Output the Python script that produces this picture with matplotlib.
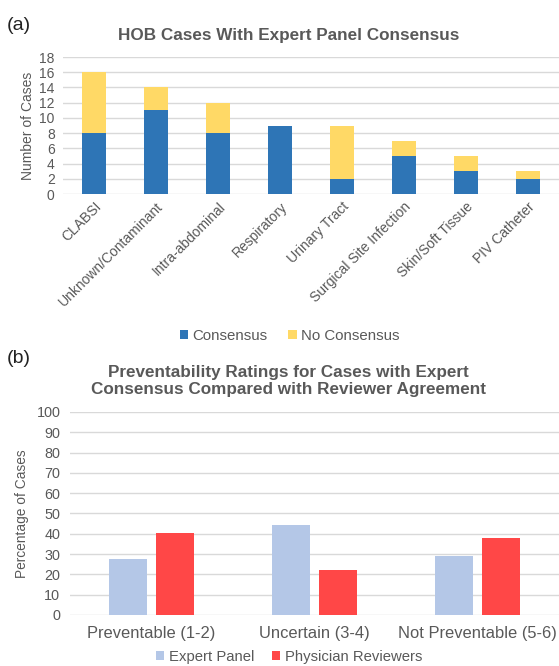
import matplotlib
matplotlib.use("Agg")
import matplotlib.pyplot as plt
import numpy as np

plt.rcParams["font.family"] = ["Liberation Sans", "DejaVu Sans"]

# panel (a) data
infection_types = ["CLABSI", "Unknown/Contaminant", "Intra-abdominal", "Respiratory",
                   "Urinary Tract", "Surgical Site Infection", "Skin/Soft Tissue", "PIV Catheter"]
consensus = [8, 11, 8, 9, 2, 5, 3, 2]
no_consensus = [8, 3, 4, 0, 7, 2, 2, 1]

# panel (b) data
ratings = ["Preventable (1-2)", "Uncertain (3-4)", "Not Preventable (5-6)"]
expert_panel = [27.5, 44.5, 29]
physician_reviewers = [40.5, 22, 38]

TXT = "#595959"
GRID = "#d9d9d9"

fig = plt.figure(figsize=(5.59, 6.66), dpi=100)


def style_axes(ax):
    for s in ax.spines.values():
        s.set_visible(False)
    ax.grid(axis="y", color=GRID, linewidth=1)
    ax.set_axisbelow(True)
    ax.tick_params(axis="both", length=0, colors=TXT)


# ---------- (a) ----------
ax1 = fig.add_axes([0.1127, 0.7087, 0.8873, 0.2057])
x = np.arange(len(infection_types))
ax1.bar(x, consensus, width=0.39, color="#2e75b6", label="Consensus")
ax1.bar(x, no_consensus, width=0.39, bottom=consensus, color="#ffd966", label="No Consensus")
ax1.set_xlim(-0.5, len(x) - 0.5)
ax1.set_ylim(0, 18)
ax1.set_yticks(range(0, 19, 2))
ax1.set_xticks(x)
ax1.set_xticklabels(infection_types, rotation=45, ha="right", rotation_mode="anchor", fontsize=10)
ax1.tick_params(axis="y", labelsize=10, pad=6)
ax1.tick_params(axis="x", pad=4)
style_axes(ax1)
ax1.set_ylabel("Number of Cases", color=TXT, fontsize=10, labelpad=3)
ax1.set_title("HOB Cases With Expert Panel Consensus", fontsize=12.3, fontweight="bold",
              color=TXT, pad=12, x=0.455)
ax1.legend(loc="center", bbox_to_anchor=(0.457, -1.036), ncol=2, frameon=False, fontsize=10.8,
           handlelength=0.55, handleheight=0.55, handletextpad=0.3, columnspacing=1.4,
           labelcolor=TXT)
fig.text(0.012, 0.962, "(a)", fontsize=14, color="#222222", va="center")

# ---------- (b) ----------
ax2 = fig.add_axes([0.1252, 0.0766, 0.8748, 0.3048])
x2 = np.arange(len(ratings))
w = 0.233
ax2.bar(x2 - 0.144, expert_panel, width=w, color="#b4c7e7", label="Expert Panel")
ax2.bar(x2 + 0.144, physician_reviewers, width=w, color="#ff4747", label="Physician Reviewers")
ax2.set_xlim(-0.5, len(x2) - 0.5)
ax2.set_ylim(0, 100)
ax2.set_yticks(range(0, 101, 10))
ax2.set_xticks(x2)
ax2.set_xticklabels(ratings, fontsize=11.9)
ax2.tick_params(axis="y", labelsize=10.4, pad=7)
ax2.tick_params(axis="x", pad=8)
style_axes(ax2)
ax2.set_ylabel("Percentage of Cases", color=TXT, fontsize=9.9, labelpad=5)
ax2.set_title("Preventability Ratings for Cases with Expert\nConsensus Compared with Reviewer Agreement",
              fontsize=12.3, fontweight="bold", color=TXT, pad=13, x=0.447, linespacing=1.2)
ax2.legend(loc="center", bbox_to_anchor=(0.448, -0.207), ncol=2, frameon=False, fontsize=10.7,
           handlelength=0.55, handleheight=0.55, handletextpad=0.3, columnspacing=1.2,
           labelcolor=TXT)
fig.text(0.012, 0.462, "(b)", fontsize=14, color="#222222", va="center")

fig.savefig("out.png", dpi=100)
